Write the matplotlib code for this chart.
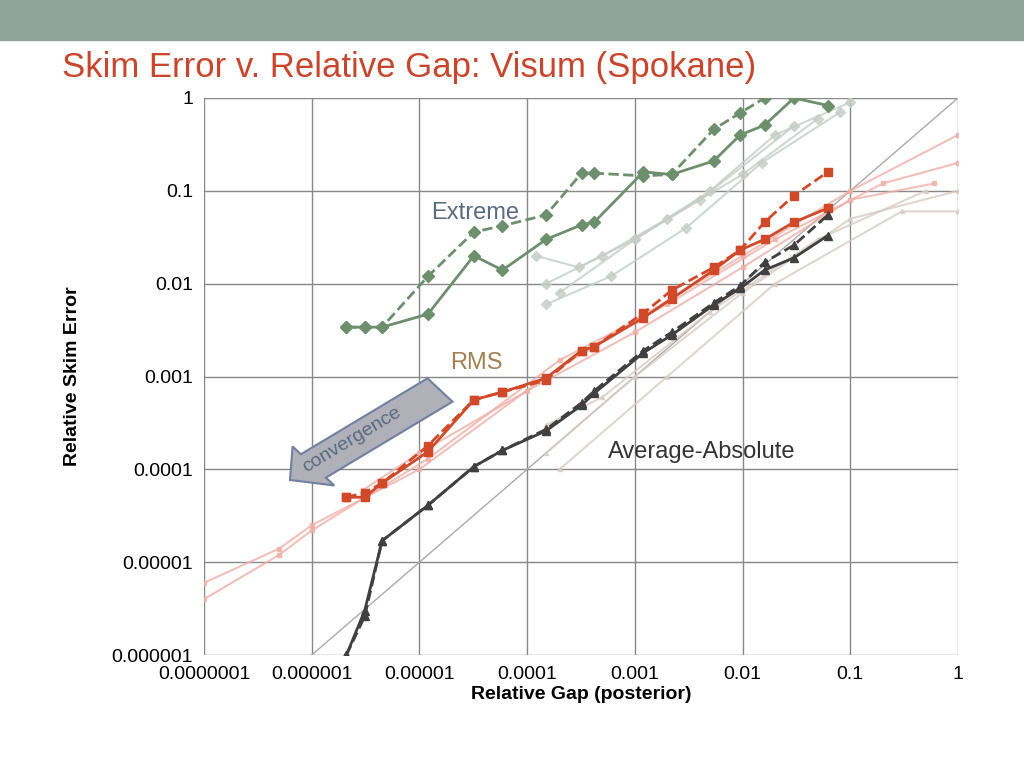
import matplotlib
matplotlib.use("Agg")
import matplotlib.pyplot as plt
from matplotlib.patches import FancyArrow, Rectangle

plt.rcParams["font.family"] = "Liberation Sans"

gap = [2.1e-6, 3.1e-6, 4.5e-6, 1.2e-5, 3.2e-5, 5.9e-5, 1.5e-4, 3.2e-4, 4.2e-4, 1.2e-3, 2.2e-3, 5.4e-3, 9.5e-3, 1.6e-2, 3.0e-2, 6.2e-2]
ext_solid = [3.4e-3, 3.4e-3, 3.4e-3, 4.7e-3, 2.0e-2, 1.4e-2, 3.0e-2, 4.3e-2, 4.6e-2, 0.16, 0.15, 0.21, 0.40, 0.51, 1.0, 0.83]
ext_dash = [3.4e-3, 3.4e-3, 3.4e-3, 1.2e-2, 3.6e-2, 4.2e-2, 5.5e-2, 0.155, 0.155, 0.145, 0.15, 0.46, 0.69, 1.0]
rms_solid = [5.0e-5, 5.0e-5, 7.1e-5, 1.55e-4, 5.6e-4, 6.8e-4, 9.6e-4, 1.9e-3, 2.1e-3, 4.3e-3, 6.9e-3, 1.4e-2, 2.3e-2, 3.0e-2, 4.6e-2, 6.5e-2]
rms_dash = [5.0e-5, 5.6e-5, 7.1e-5, 1.8e-4, 5.6e-4, 6.8e-4, 9.1e-4, 1.9e-3, 2.1e-3, 4.8e-3, 8.5e-3, 1.5e-2, 2.3e-2, 4.6e-2, 8.9e-2, 0.16]
avg_solid = [1.0e-6, 3.0e-6, 1.7e-5, 4.1e-5, 1.07e-4, 1.6e-4, 2.6e-4, 4.9e-4, 6.6e-4, 1.8e-3, 2.8e-3, 5.9e-3, 8.9e-3, 1.4e-2, 1.9e-2, 3.3e-2]
avg_dash = [1.0e-6, 2.6e-6, 1.7e-5, 4.1e-5, 1.07e-4, 1.6e-4, 2.7e-4, 5.2e-4, 7.0e-4, 1.9e-3, 3.0e-3, 6.2e-3, 9.5e-3, 1.7e-2, 2.6e-2, 5.5e-2]

# faint background runs (read approximately)
bg_rms_x = [[1.0e-7, 5.0e-7, 1.0e-6, 1.0e-5, 1.5e-4, 1.0e-3, 1.0e-2, 0.1, 1.0],
            [1.0e-7, 5.0e-7, 1.0e-6, 1.2e-5, 2.0e-4, 2.0e-3, 2.0e-2, 0.2, 1.0],
            [3.0e-6, 1.0e-5, 1.0e-4, 1.0e-3, 1.0e-2, 0.1, 0.6]]
bg_rms_y = [[6.0e-6, 1.4e-5, 2.5e-5, 1.0e-4, 1.0e-3, 4.0e-3, 2.0e-2, 0.10, 0.4],
            [4.0e-6, 1.2e-5, 2.2e-5, 1.3e-4, 1.5e-3, 6.0e-3, 3.0e-2, 0.12, 0.2],
            [6.0e-5, 1.5e-4, 7.0e-4, 3.0e-3, 1.5e-2, 8.0e-2, 0.12]]
bg_avg_x = [[1.5e-4, 1.0e-3, 1.0e-2, 0.1, 1.0], [2.0e-4, 2.0e-3, 2.0e-2, 0.3, 1.0], [1.5e-4, 5.0e-4, 5.0e-3, 5.0e-2, 0.5]]
bg_avg_y = [[1.5e-4, 1.0e-3, 8.0e-3, 5.0e-2, 0.1], [1.0e-4, 1.0e-3, 1.0e-2, 6.0e-2, 0.06], [3.0e-4, 6.0e-4, 5.0e-3, 3.0e-2, 0.1]]
bg_ext_x = [[1.5e-4, 5.0e-4, 2.0e-3, 1.0e-2, 5.0e-2], [2.0e-4, 1.0e-3, 5.0e-3, 2.0e-2, 0.1], [1.2e-4, 3.0e-4, 1.0e-3, 4.0e-3, 3.0e-2],
            [1.5e-4, 6.0e-4, 3.0e-3, 1.5e-2, 8.0e-2]]
bg_ext_y = [[1.0e-2, 2.0e-2, 5.0e-2, 0.15, 0.6], [8.0e-3, 3.0e-2, 0.1, 0.4, 0.9], [2.0e-2, 1.5e-2, 3.0e-2, 8.0e-2, 0.5],
            [6.0e-3, 1.2e-2, 4.0e-2, 0.2, 0.7]]

xticks = [1e-7, 1e-6, 1e-5, 1e-4, 1e-3, 1e-2, 1e-1, 1]
xlabels = ["0.0000001", "0.000001", "0.00001", "0.0001", "0.001", "0.01", "0.1", "1"]
yticks = [1e-6, 1e-5, 1e-4, 1e-3, 1e-2, 1e-1, 1]
ylabels = ["0.000001", "0.00001", "0.0001", "0.001", "0.01", "0.1", "1"]

fig = plt.figure(figsize=(10.24, 7.68), dpi=100)
fig.patches.append(Rectangle((0, 1 - 40 / 768), 1, 40 / 768, transform=fig.transFigure, color="#8fa39a"))
fig.text(62 / 1024, 1 - 68 / 768, "Skim Error v. Relative Gap: Visum (Spokane)", color="#c9452c",
         fontsize=25, va="center")

ax = fig.add_axes([204 / 1024, 1 - 655 / 768, 754 / 1024, 557 / 768])
ax.set_xscale("log"); ax.set_yscale("log")
ax.set_xlim(1e-7, 1); ax.set_ylim(1e-6, 1)
ax.grid(True, color="#888888", lw=1)
ax.set_axisbelow(True)
for s in ax.spines.values():
    s.set_visible(False)
ax.tick_params(length=0, labelsize=14, pad=8)
ax.set_xticks(xticks); ax.set_xticklabels(xlabels)
ax.set_yticks(yticks); ax.set_yticklabels(ylabels)
ax.minorticks_off()
ax.set_xlabel("Relative Gap (posterior)", fontsize=14, fontweight="bold", labelpad=2)
ax.set_ylabel("Relative Skim Error", fontsize=14, fontweight="bold", labelpad=22)

ax.plot([1e-6, 1], [1e-6, 1], color="#aaaaaa", lw=1)

for xs, ys in zip(bg_ext_x, bg_ext_y):
    ax.plot(xs, ys, color="#c5cdc8", lw=1.5, marker="D", ms=5, alpha=0.8)
for xs, ys in zip(bg_rms_x, bg_rms_y):
    ax.plot(xs, ys, color="#f0b0a8", lw=1.5, marker="s", ms=3, alpha=0.8)
for xs, ys in zip(bg_avg_x, bg_avg_y):
    ax.plot(xs, ys, color="#d8ccc4", lw=1.5, marker="^", ms=3, alpha=0.8)

ax.plot(gap, ext_solid, color="#6e8f6e", lw=2, marker="D", ms=6)
ax.plot(gap[:len(ext_dash)], ext_dash, color="#6e8f6e", lw=2, ls="--", marker="D", ms=6)
ax.plot(gap, rms_solid, color="#d04a2a", lw=2, marker="s", ms=6)
ax.plot(gap, rms_dash, color="#d04a2a", lw=2, ls="--", marker="s", ms=6)
ax.plot(gap, avg_solid, color="#404040", lw=2, marker="^", ms=6)
ax.plot(gap, avg_dash, color="#404040", lw=2, ls="--", marker="^", ms=6)

ax.text(475 / 1024, 1 - 213 / 768, "Extreme", transform=fig.transFigure, fontsize=17, color="#5a6a80", ha="center", va="center")
ax.text(476 / 1024, 1 - 363 / 768, "RMS", transform=fig.transFigure, fontsize=17, color="#a08050", ha="center", va="center")
ax.text(702 / 1024, 1 - 452 / 768, "Average-Absolute", transform=fig.transFigure, fontsize=17, color="#333333", ha="center", va="center")

W, H = 1024, 768
fig.patches.append(FancyArrow(440 / W, 1 - 390 / H, -150 / W, -90 / H, width=30 / H, head_width=50 / H,
                              head_length=30 / W, transform=fig.transFigure, facecolor="#b0b0b8", edgecolor="#7080a0", lw=1.5,
                              length_includes_head=True))
fig.text(352 / W, 1 - 440 / H, "convergence", rotation=31, fontsize=14, color="#5a6a80", ha="center", va="center")

fig.savefig("out.png", dpi=100)
